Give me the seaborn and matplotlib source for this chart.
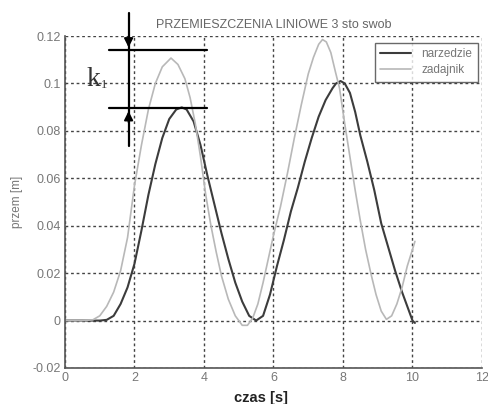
import matplotlib
matplotlib.use("Agg")
import matplotlib.pyplot as plt
from matplotlib.lines import Line2D
import seaborn as sns
import pandas as pd

# ---- data ----
narz_t = [0, 0.5, 1.0, 1.2, 1.4, 1.6, 1.8, 2.0, 2.2, 2.4, 2.6, 2.8, 3.0, 3.2, 3.36, 3.5, 3.7, 3.9,
          4.1, 4.3, 4.5, 4.7, 4.9, 5.1, 5.3, 5.5, 5.7, 5.9, 6.1, 6.3, 6.5, 6.7, 6.9, 7.1, 7.3, 7.5,
          7.7, 7.8, 7.93, 8.05, 8.2, 8.35, 8.5, 8.7, 8.9, 9.1, 9.3, 9.5, 9.7, 9.9, 10.0, 10.07]
narz_y = [0, 0, 0, 0.0003, 0.002, 0.007, 0.014, 0.024, 0.038, 0.053, 0.066, 0.077, 0.085, 0.089, 0.0899,
          0.089, 0.084, 0.074, 0.061, 0.049, 0.037, 0.026, 0.016, 0.008, 0.002, 0.0, 0.002, 0.011, 0.023,
          0.034, 0.046, 0.056, 0.067, 0.077, 0.086, 0.093, 0.098, 0.1, 0.101, 0.1, 0.096, 0.088, 0.078,
          0.067, 0.055, 0.041, 0.031, 0.021, 0.012, 0.004, 0.0, -0.001]

zad_t = [0, 0.5, 0.8, 1.0, 1.2, 1.4, 1.6, 1.8, 2.0, 2.2, 2.4, 2.6, 2.8, 3.05, 3.25, 3.45, 3.6, 3.75,
         3.9, 4.05, 4.2, 4.35, 4.5, 4.7, 4.9, 5.1, 5.25, 5.4, 5.55, 5.7, 5.85, 6.0, 6.2, 6.4, 6.6, 6.8,
         7.0, 7.15, 7.3, 7.41, 7.52, 7.65, 7.78, 7.9, 8.05, 8.2, 8.35, 8.5, 8.65, 8.8, 8.95, 9.1, 9.25,
         9.4, 9.55, 9.7, 9.85, 10.0, 10.07]
zad_y = [0, 0, 0.0003, 0.002, 0.006, 0.012, 0.021, 0.035, 0.057, 0.074, 0.089, 0.1, 0.107, 0.1107,
         0.108, 0.102, 0.094, 0.083, 0.069, 0.053, 0.04, 0.029, 0.019, 0.009, 0.002, -0.002, -0.002,
         0.001, 0.007, 0.016, 0.026, 0.036, 0.048, 0.062, 0.077, 0.091, 0.104, 0.111, 0.1165, 0.1185,
         0.1175, 0.113, 0.105, 0.098, 0.083, 0.069, 0.055, 0.042, 0.03, 0.02, 0.011, 0.004, 0.0005,
         0.002, 0.007, 0.014, 0.023, 0.03, 0.0334]

series_names = ["narzedzie", "zadajnik"]
x_ticks = [0, 2, 4, 6, 8, 10, 12]
x_tick_labels = ["0", "2", "4", "6", "8", "10", "12"]
y_ticks = [-0.02, 0, 0.02, 0.04, 0.06, 0.08, 0.1, 0.12]
y_tick_labels = ["-0.02", "0", "0.02", "0.04", "0.06", "0.08", "0.1", "0.12"]
title = "PRZEMIESZCZENIA LINIOWE 3 sto swob"
xlabel = "czas [s]"
ylabel = "przem [m]"

df = pd.concat([
    pd.DataFrame({"t": narz_t, "y": narz_y, "series": series_names[0]}),
    pd.DataFrame({"t": zad_t, "y": zad_y, "series": series_names[1]}),
], ignore_index=True)

sns.set_style("white")
plt.rcParams["font.family"] = ["Liberation Sans", "DejaVu Sans"]

fig = plt.figure(figsize=(4.89, 4.04), dpi=100)
ax = fig.add_axes([65 / 489, 1 - 368 / 404, 417 / 489, 332 / 404])

palette = {"narzedzie": "#3c3c3c", "zadajnik": "#b8b8b8"}
widths = {"narzedzie": 1.5, "zadajnik": 1.2}
sns.lineplot(data=df, x="t", y="y", hue="series", palette=palette, estimator=None,
             sort=False, ax=ax, linewidth=1.4, legend=False)
for ln, n in zip(ax.lines, series_names):
    ln.set_linewidth(widths[n])

ax.set_xlim(0, 12)
ax.set_ylim(-0.02, 0.12)
ax.set_xticks(x_ticks)
ax.set_xticklabels(x_tick_labels)
ax.set_yticks(y_ticks)
ax.set_yticklabels(y_tick_labels)
ax.tick_params(direction="in", length=3, labelsize=9, labelcolor="#777777", color="#555555", pad=3)

ax.grid(True, color="#444444", linestyle=(0, (2, 2)), linewidth=1.0)
for s in ["top", "right"]:
    ax.spines[s].set_visible(False)
for s in ["left", "bottom"]:
    ax.spines[s].set_color("#555555")
    ax.spines[s].set_linewidth(1.2)

ax.set_title(title, fontsize=9, color="#666666", pad=6)
ax.set_xlabel(xlabel, fontsize=10.5, color="#222222", fontweight="bold")
ax.xaxis.set_label_coords(0.47, -0.068)
ax.set_ylabel(ylabel, fontsize=8.5, color="#777777")
ax.yaxis.set_label_coords(-0.1, 0.5)

handles = [Line2D([], [], color=palette[n], linewidth=widths[n]) for n in series_names]
leg = ax.legend(handles, series_names, loc="upper right", bbox_to_anchor=(0.99, 0.979),
                fontsize=8.5, frameon=True, fancybox=False, borderaxespad=0, handlelength=2.6,
                borderpad=0.45, labelspacing=0.35, handletextpad=0.9)
leg.get_frame().set_edgecolor("#444444")
leg.get_frame().set_linewidth(1.0)
for t in leg.get_texts():
    t.set_color("#777777")

# k1 annotation
k_top, k_bot, k_x = 0.114, 0.0895, 1.83
ax.plot([1.26, 4.1], [k_top, k_top], color="black", linewidth=1.6, clip_on=False)
ax.plot([1.26, 4.1], [k_bot, k_bot], color="black", linewidth=1.6, clip_on=False)
ax.plot([k_x, k_x], [0.1297, 0.0737], color="black", linewidth=1.6, clip_on=False)
ax.annotate("", xy=(k_x, k_top), xytext=(k_x, k_top + 0.007),
            arrowprops=dict(arrowstyle="-|>", color="black", lw=1.4, mutation_scale=13), annotation_clip=False)
ax.annotate("", xy=(k_x, k_bot), xytext=(k_x, k_bot - 0.007),
            arrowprops=dict(arrowstyle="-|>", color="black", lw=1.4, mutation_scale=13), annotation_clip=False)
ax.text(0.62, 0.1015, "k", fontsize=20, family="Liberation Serif", color="#333333", va="center")
ax.text(1.03, 0.0995, "1", fontsize=9, family="Liberation Serif", color="#333333", va="center")

fig.savefig("out.png", dpi=100)
